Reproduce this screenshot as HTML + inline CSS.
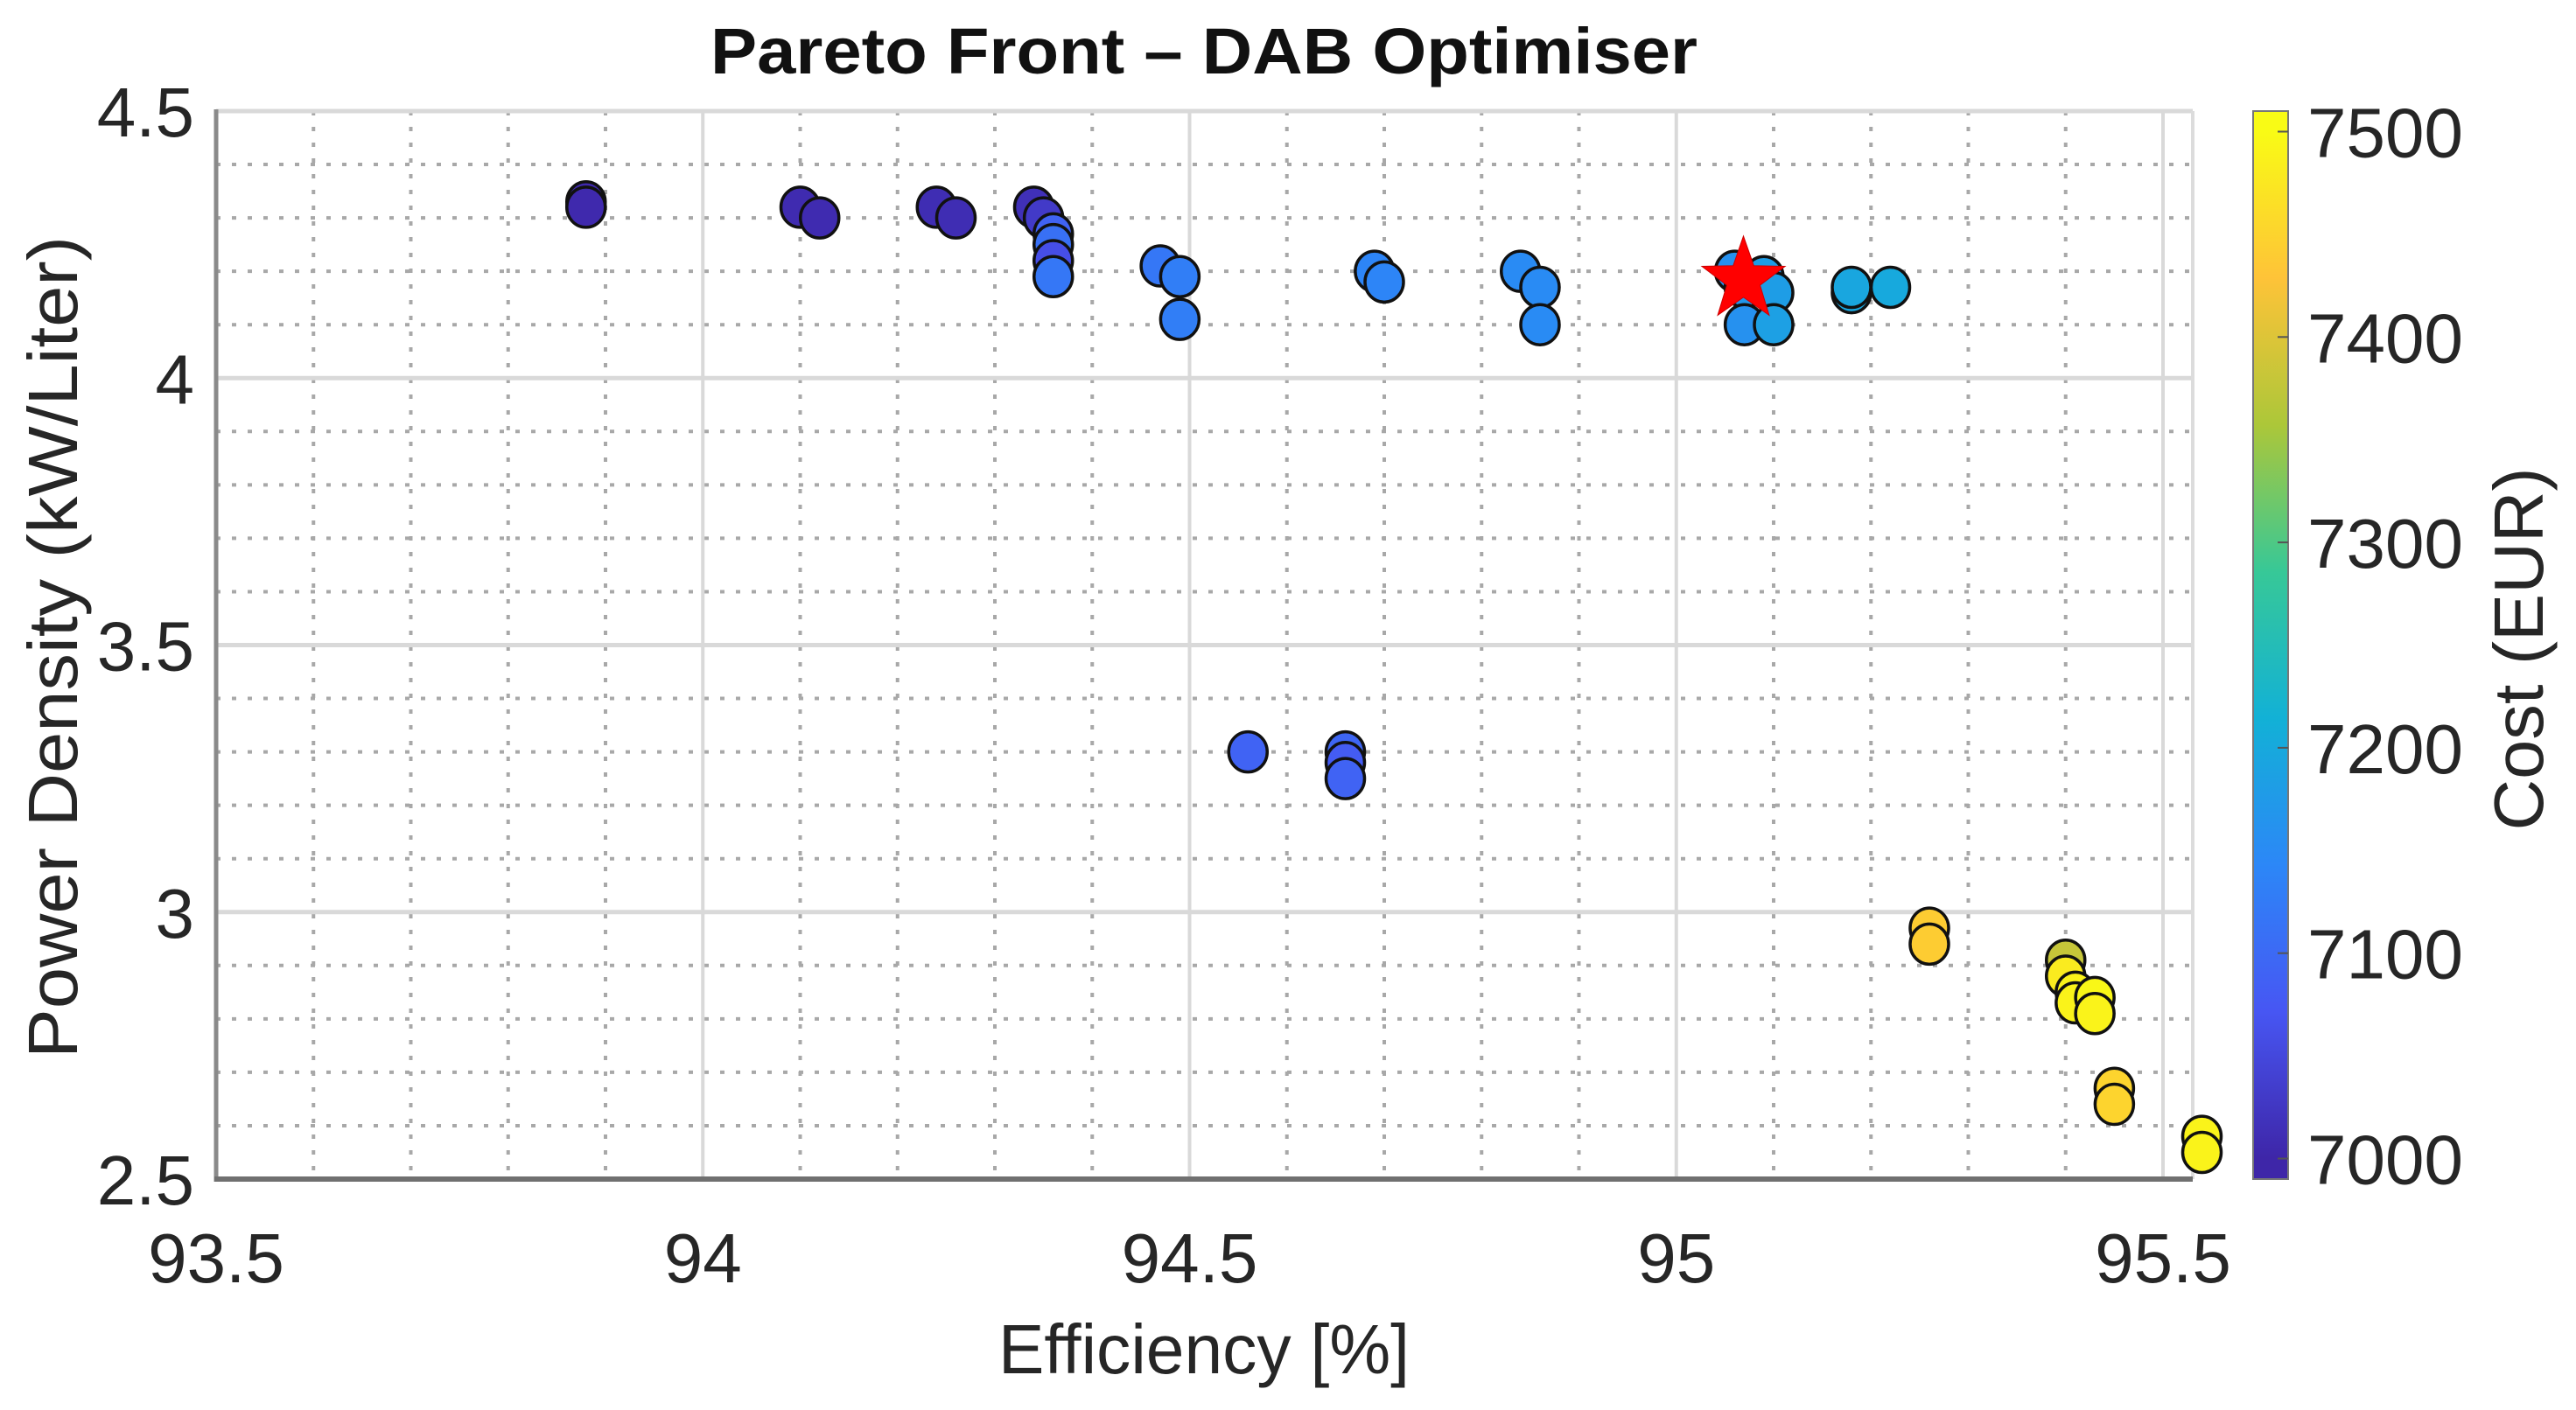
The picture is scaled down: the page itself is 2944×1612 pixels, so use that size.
<!DOCTYPE html>
<html><head><meta charset="utf-8"><style>
html,body{margin:0;padding:0;background:#fff;}
svg{display:block;font-family:"Liberation Sans",Arial,sans-serif;}
</style></head><body>
<svg id="chart" width="2944" height="1612" viewBox="0 0 2944 1612"></svg>
<script>
const effValues=[93.88,93.88,94.10,94.12,94.24,94.26,94.34,94.35,94.36,94.36,94.36,94.36,94.47,94.49,94.49,94.69,94.70,94.84,94.86,94.86,95.06,95.07,95.07,95.09,95.10,95.10,95.18,95.18,95.22,94.56,94.66,94.66,94.66,95.26,95.26,95.40,95.40,95.41,95.41,95.43,95.43,95.45,95.45,95.54,95.54];
const densityValues=[4.33,4.32,4.32,4.30,4.32,4.30,4.32,4.30,4.27,4.25,4.22,4.19,4.21,4.19,4.11,4.20,4.18,4.20,4.17,4.10,4.20,4.17,4.10,4.19,4.16,4.10,4.16,4.17,4.17,3.30,3.30,3.28,3.25,2.97,2.94,2.91,2.88,2.85,2.83,2.84,2.81,2.67,2.64,2.58,2.55];
const costValues=[7005,7005,7008,7008,7010,7010,7015,7030,7090,7110,7060,7120,7120,7130,7130,7140,7140,7150,7150,7150,7160,7170,7160,7180,7180,7185,7195,7195,7200,7090,7095,7080,7090,7440,7440,7380,7480,7490,7490,7495,7490,7450,7450,7490,7490];
const bestPoint=[95.069,4.184];
const xTicks=[93.5,94,94.5,95,95.5];
const xTickLabels=["93.5","94","94.5","95","95.5"];
const yTicks=[2.5,3,3.5,4,4.5];
const yTickLabels=["2.5","3","3.5","4","4.5"];
const cTicks=[7000,7100,7200,7300,7400,7500];
const cTickLabels=["7000","7100","7200","7300","7400","7500"];

const NS="http://www.w3.org/2000/svg";
const svg=document.getElementById('chart');
const L=247,R=2506,T=127,B=1348;
const x=v=>L+(v-93.5)*1112.5;
const y=v=>T+(4.5-v)*610.5;
const cT=127,cB=1348,cMin=6990,cMax=7510;
const cy=v=>cB-(v-cMin)/(cMax-cMin)*(cB-cT);
const parula=[[62,38,168],[71,86,243],[44,135,247],[18,177,214],[55,200,151],[172,199,57],[254,195,56],[249,251,21]];
function col(c){let t=Math.max(0,Math.min(1,(c-7000)/500))*(parula.length-1);let i=Math.min(Math.floor(t),parula.length-2),f=t-i;const a=parula[i],b=parula[i+1];return 'rgb('+a.map((v,k)=>Math.round(v+(b[k]-v)*f)).join(',')+')';}
function el(tag,attrs,parent){const e=document.createElementNS(NS,tag);for(const k in attrs)e.setAttribute(k,attrs[k]);(parent||svg).appendChild(e);return e;}

const grid=el('g',{});


for(let v=93.6;v<95.53;v+=0.1){if(Math.abs((v*2)-Math.round(v*2))<1e-6)continue;const ln=el('line',{x1:x(v),x2:x(v),y1:T,y2:B,stroke:'#a8a8a8','stroke-width':4,'stroke-dasharray':'5 13'},grid);}
for(let v=2.6;v<4.5;v+=0.1){if(Math.abs((v*2)-Math.round(v*2))<1e-6)continue;const ln=el('line',{x1:L,x2:R,y1:y(v),y2:y(v),stroke:'#a8a8a8','stroke-width':4,'stroke-dasharray':'5 13'},grid);}
xTicks.forEach(v=>{const ln=el('line',{x1:x(v),x2:x(v),y1:T,y2:B,stroke:'#d9d9d9','stroke-width':4},grid);});
yTicks.forEach(v=>{const ln=el('line',{x1:L,x2:R,y1:y(v),y2:y(v),stroke:'#d9d9d9','stroke-width':5},grid);});
el('line',{x1:R,x2:R,y1:T,y2:B,stroke:'#dcdcdc','stroke-width':4},grid);
const ax=el('g',{});


el('line',{x1:L,x2:L,y1:T-2,y2:B+3,stroke:'#8a8a8a','stroke-width':5},ax);
el('line',{x1:L-2,x2:R,y1:B,y2:B,stroke:'#707070','stroke-width':6},ax);
xTicks.forEach((v,i)=>{const t=el('text',{x:x(v),y:1466,'font-size':80,fill:'#262626','text-anchor':'middle'},ax);t.textContent=xTickLabels[i];});
yTicks.forEach((v,i)=>{const t=el('text',{x:222,y:y(v)+29,'font-size':80,fill:'#262626','text-anchor':'end'},ax);t.textContent=yTickLabels[i];});
const pts=el('g',{});


effValues.forEach((e,i)=>{const c=el('ellipse',{cx:x(e),cy:y(densityValues[i]),rx:22,ry:23,fill:col(costValues[i]),stroke:'#111','stroke-width':3.5},pts);});
(function(){const cx=x(bestPoint[0]),cy0=y(bestPoint[1]);const ro=50,ri=20;let p=[];for(let k=0;k<10;k++){const r=k%2?ri:ro;const a=-Math.PI/2+k*Math.PI/5;p.push((cx+r*Math.cos(a)).toFixed(1)+','+(cy0+r*Math.sin(a)).toFixed(1));}
const s=el('polygon',{points:p.join(' '),fill:'#ff0000',stroke:'#cc0000','stroke-width':1});})();
const defs=el('defs',{});
const gr=el('linearGradient',{id:'pg',x1:0,y1:1,x2:0,y2:0},defs);
parula.forEach((c,i)=>{const o=(7000+i*500/(parula.length-1)-cMin)/(cMax-cMin);el('stop',{offset:o,'stop-color':'rgb('+c.join(',')+')'},gr);});
const cb=el('g',{});


el('rect',{x:2575,y:cT,width:40,height:cB-cT,fill:'url(#pg)',stroke:'#777','stroke-width':2},cb);
cTicks.forEach((v,i)=>{el('line',{x1:2603,x2:2615,y1:cy(v),y2:cy(v),stroke:'#555','stroke-width':2},cb);const t=el('text',{x:2637,y:cy(v)+29,'font-size':80,fill:'#262626'},cb);t.textContent=cTickLabels[i];});
const title=el('text',{x:1376,y:84,'font-size':74,'font-weight':'bold',fill:'#111','text-anchor':'middle',textLength:1128,lengthAdjust:'spacingAndGlyphs'});
title.textContent='Pareto Front \u2013 DAB Optimiser';


const xl=el('text',{x:1376,y:1570,'font-size':80,fill:'#262626','text-anchor':'middle',textLength:470,lengthAdjust:'spacingAndGlyphs'});
xl.textContent='Efficiency [%]';


const yl=el('text',{x:0,y:0,'font-size':80,fill:'#262626','text-anchor':'middle',transform:'translate(88,740) rotate(-90)',textLength:940,lengthAdjust:'spacingAndGlyphs'});
yl.textContent='Power Density (kW/Liter)';


const cl=el('text',{x:0,y:0,'font-size':80,fill:'#262626','text-anchor':'middle',transform:'translate(2906,742) rotate(-90)',textLength:415,lengthAdjust:'spacingAndGlyphs'});
cl.textContent='Cost (EUR)';


</script>
</body></html>
